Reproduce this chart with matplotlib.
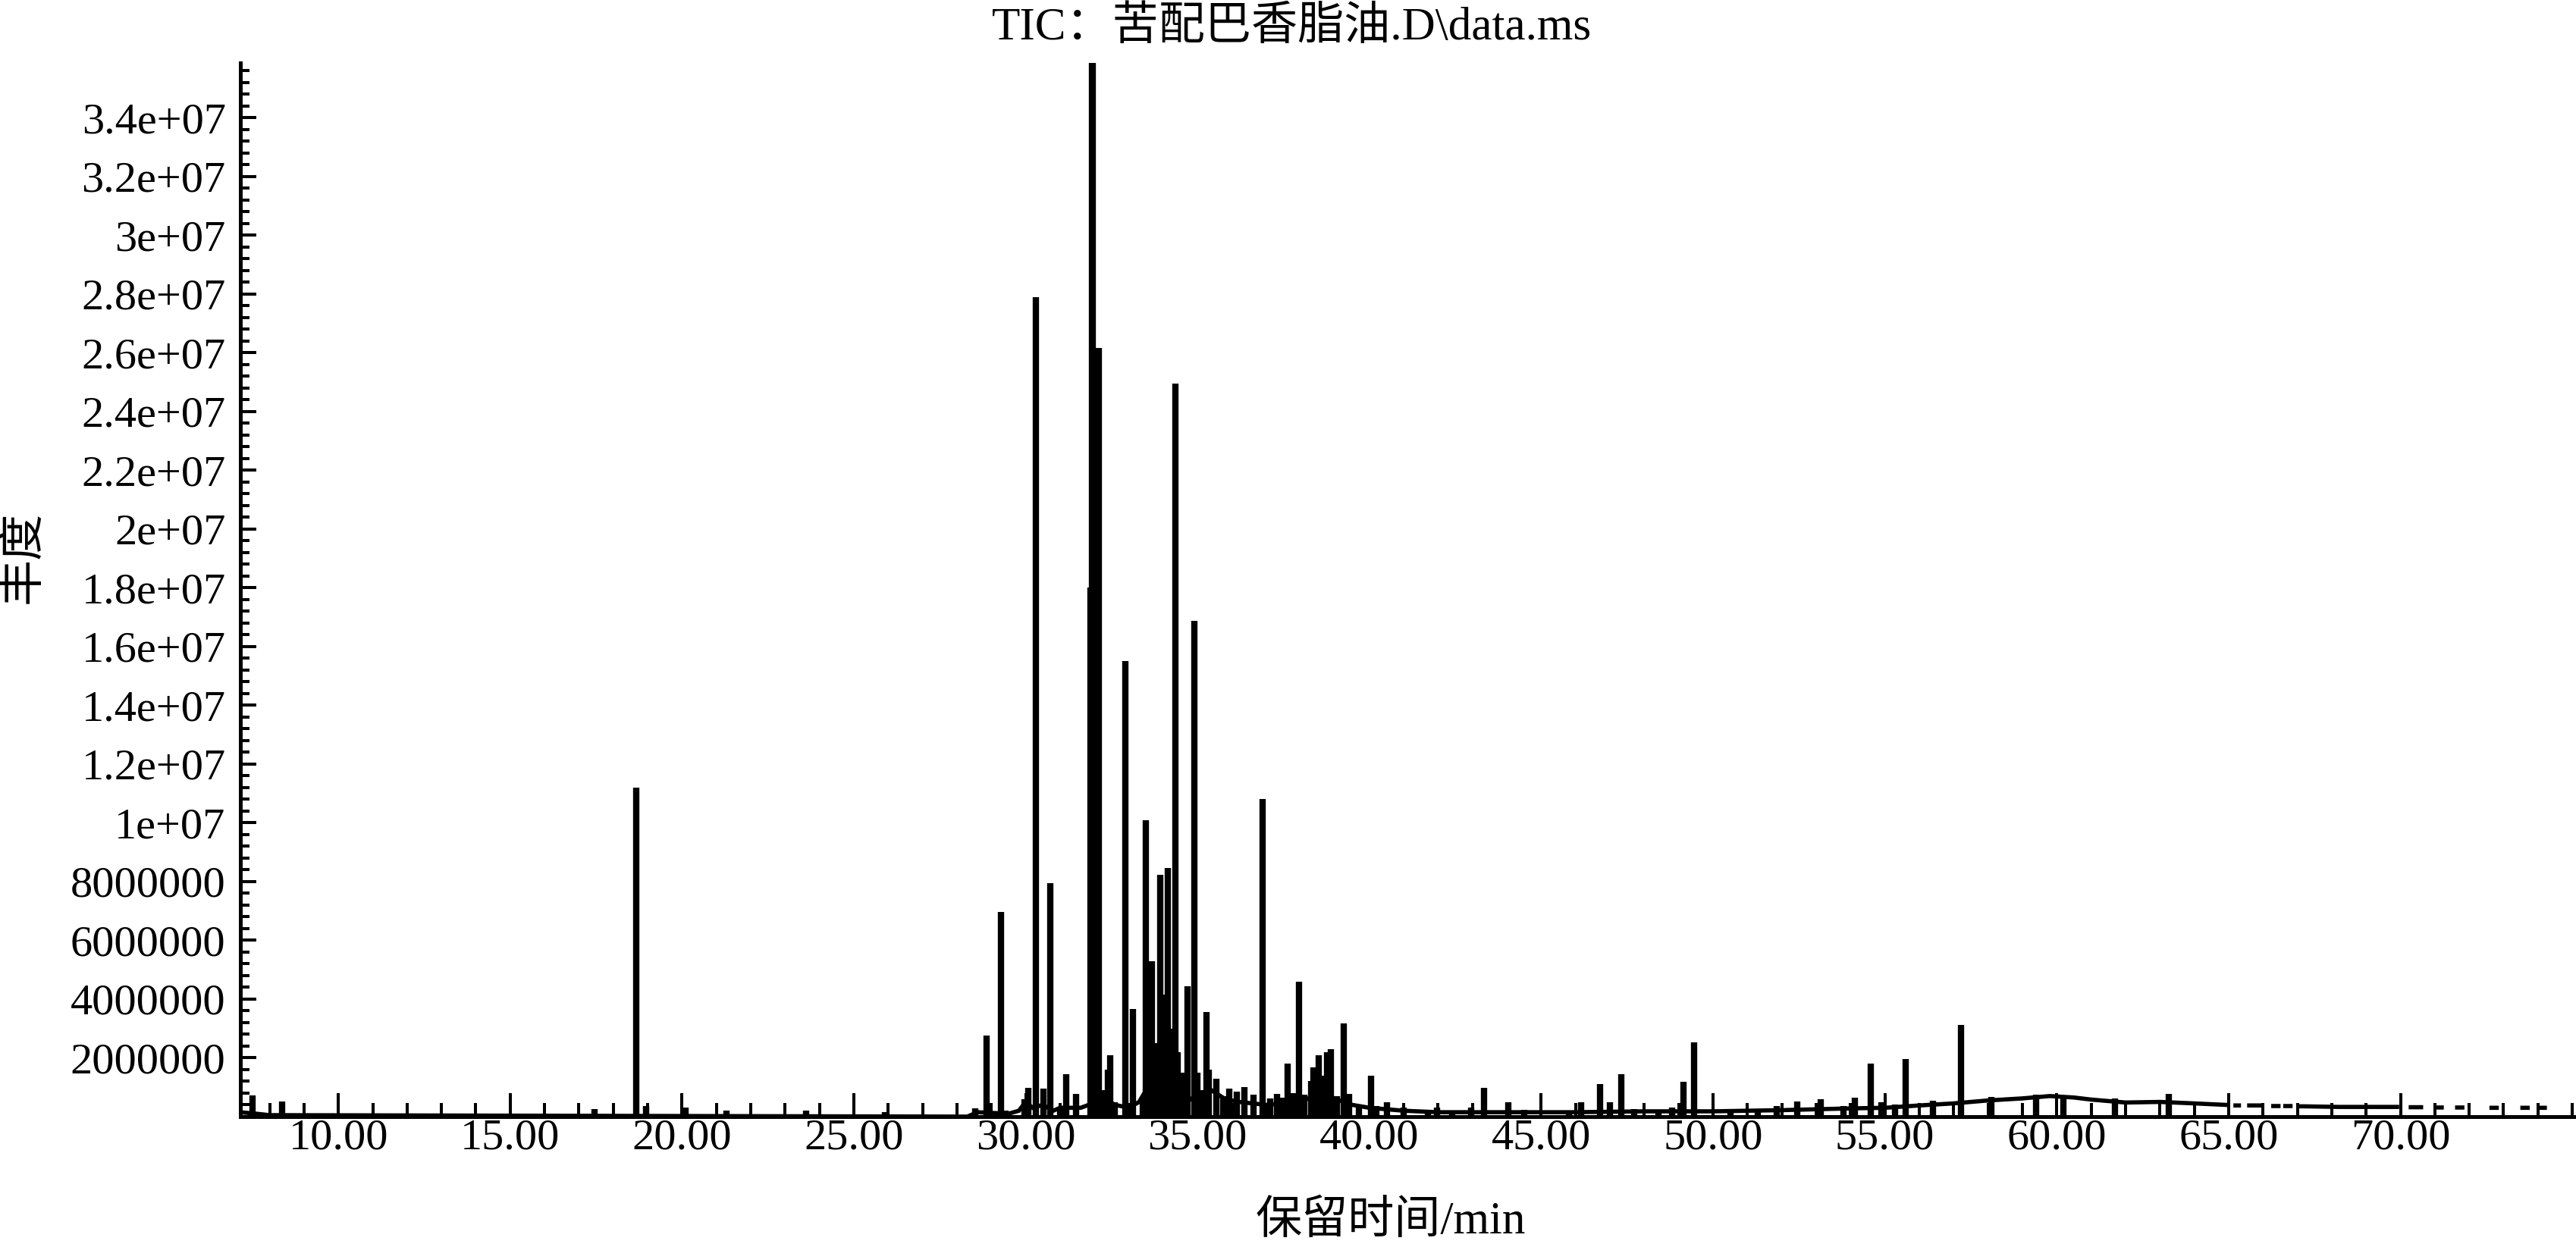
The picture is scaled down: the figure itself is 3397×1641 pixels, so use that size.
import numpy as np
import matplotlib
matplotlib.use('Agg')
import matplotlib.pyplot as plt
from matplotlib.ticker import MultipleLocator, FixedLocator, FormatStrFormatter

plt.rcParams['font.family'] = ['Liberation Serif', 'Noto Sans CJK SC', 'DejaVu Sans']

# peaks: retention time (min), abundance
peak_rt = [7.50, 8.36, 17.45, 18.66, 18.95, 20.10, 21.30, 23.60, 25.90,
           28.52, 28.86, 29.29, 29.42, 29.96, 30.07, 30.29, 30.51, 30.71,
           31.00, 31.17, 31.47, 31.89, 31.92, 31.96, 32.13, 32.26, 32.40,
           32.46, 32.60, 32.89, 33.11, 33.40, 33.49, 33.58, 33.62, 33.68,
           33.80, 33.92, 34.04, 34.14, 34.22, 34.35, 34.42, 34.58, 34.70,
           34.90, 35.00, 35.10, 35.25, 35.32, 35.55, 35.75, 35.93, 36.14,
           36.37, 36.63, 36.90, 37.11, 37.31, 37.45, 37.63, 37.80, 37.95,
           38.10, 38.30, 38.37, 38.53, 38.62, 38.77, 38.88, 39.05, 39.26,
           39.40, 39.70, 40.05, 40.20, 40.50, 41.00, 41.70, 41.97, 42.40,
           42.95, 43.34, 44.04, 44.50, 45.80, 46.15, 46.70, 47.00, 47.33,
           47.70, 48.40, 48.80, 49.13, 49.44, 50.50, 51.30, 51.86, 52.45,
           53.14, 53.80, 54.13, 54.58, 54.90, 55.30, 55.60, 56.40, 57.22,
           58.10, 59.40, 60.20, 61.70, 63.25]
peak_abund = [0.72e6, 0.52e6, 0.25e6, 1.12e7, 0.35e6, 0.30e6, 0.20e6, 0.20e6, 0.15e6,
              0.29e6, 2.76e6, 6.96e6, 0.20e6, 0.58e6, 0.98e6, 2.79e7, 0.96e6, 7.95e6,
              0.33e6, 1.45e6, 0.78e6, 1.80e7, 3.60e7, 3.60e7, 2.615e7, 0.91e6, 1.60e6,
              2.10e6, 0.50e6, 1.55e7, 3.66e6, 0.68e6, 1.009e7, 2.20e6, 1.80e6, 5.30e6,
              2.50e6, 8.22e6, 4.16e6, 8.46e6, 3.00e6, 2.494e7, 2.20e6, 1.50e6, 4.43e6,
              1.686e7, 1.50e6, 0.90e6, 3.55e6, 1.60e6, 1.30e6, 0.70e6, 0.95e6, 0.85e6,
              1.00e6, 0.76e6, 1.082e7, 0.62e6, 0.78e6, 0.65e6, 1.81e6, 0.80e6, 4.60e6,
              0.74e6, 1.20e6, 1.68e6, 2.10e6, 1.40e6, 2.20e6, 2.30e6, 0.70e6, 3.16e6,
              0.78e6, 0.35e6, 1.38e6, 0.35e6, 0.50e6, 0.30e6, 0.22e6, 0.30e6, 0.20e6,
              0.30e6, 0.98e6, 0.50e6, 0.22e6, 0.20e6, 0.50e6, 1.11e6, 0.50e6, 1.44e6,
              0.25e6, 0.22e6, 0.30e6, 1.19e6, 2.53e6, 0.22e6, 0.25e6, 0.35e6, 0.51e6,
              0.58e6, 0.35e6, 0.64e6, 1.80e6, 0.50e6, 0.42e6, 1.95e6, 0.55e6, 3.11e6,
              0.66e6, 0.76e6, 0.68e6, 0.62e6, 0.78e6]

# baseline trace between peaks (nan = no visible trace)
base_rt = [7.15, 7.60, 8.00, 28.30, 28.60, 29.50, 29.80, 30.00, 30.20, 30.50,
           30.80, 31.00, 31.60, 32.30, 32.60, 33.00, 33.30, 33.50, 33.80, 34.20,
           34.50, 34.80, 35.10, 35.40, 35.80, 36.20, 36.60, 37.00, 37.50, 38.20,
           38.60, 39.00, 39.50, 40.00, 40.50, 41.00, 42.00, 44.00, 46.00, 48.00,
           50.00, 52.00, 54.00, 55.00, 56.00, 57.00, 58.00, 59.00, 59.80, 60.50,
           61.00, 62.00, 63.00, 64.00, 64.90, 65.00,
           65.20, 65.30, 65.50, 65.60, 65.90, 66.00,
           66.30, 66.45, 66.55, 66.65, 66.80, 66.95, 67.10, 67.20,
           68.20, 69.00, 69.90, 70.00,
           70.30, 70.60, 70.70, 71.05, 71.20, 71.30, 71.65, 71.80, 71.90,
           72.65, 72.80, 72.90, 73.55, 73.70, 73.80, 74.05, 74.20]
base_abund = [0.15e6, 0.10e6, 0.05e6, 0.00e6, 0.15e6, 0.10e6, 0.20e6, 0.50e6, 0.30e6, 0.40e6,
              0.20e6, 0.30e6, 0.30e6, 0.60e6, 0.40e6, 0.30e6, 0.50e6, 0.90e6, 1.00e6, 0.90e6,
              0.30e6, 0.60e6, 0.80e6, 0.90e6, 0.60e6, 0.50e6, 0.45e6, 0.40e6, 0.45e6, 0.60e6,
              0.90e6, 0.60e6, 0.40e6, 0.30e6, 0.25e6, 0.20e6, 0.15e6, 0.15e6, 0.15e6, 0.18e6,
              0.18e6, 0.22e6, 0.28e6, 0.30e6, 0.38e6, 0.45e6, 0.55e6, 0.62e6, 0.70e6, 0.65e6,
              0.58e6, 0.48e6, 0.50e6, 0.45e6, 0.40e6, np.nan,
              0.38e6, 0.38e6, np.nan, 0.38e6, 0.38e6, np.nan,
              0.36e6, 0.36e6, np.nan, 0.36e6, 0.36e6, np.nan, 0.35e6, 0.35e6,
              0.33e6, 0.33e6, 0.33e6, np.nan,
              0.32e6, 0.32e6, np.nan, 0.31e6, 0.31e6, np.nan, 0.31e6, 0.31e6, np.nan,
              0.30e6, 0.30e6, np.nan, 0.30e6, 0.30e6, np.nan, 0.30e6, 0.30e6]

y_ticks = np.arange(2e6, 3.5e7, 2e6)
x_ticks = [10, 15, 20, 25, 30, 35, 40, 45, 50, 55, 60, 65, 70]

fig = plt.figure(figsize=(33.98, 16.41), dpi=100)
ax = fig.add_axes([0.0933, 0.1024, 0.9063, 0.847])

ax.plot(base_rt, base_abund, color='black', lw=4, solid_joinstyle='miter')
ax.vlines(peak_rt, 0, peak_abund, color='black', lw=6)

ax.set_xlim(7.15, 75.1)
ax.set_ylim(0, 3.586e7)

for s in ['top', 'right']:
    ax.spines[s].set_visible(False)
for s in ['left', 'bottom']:
    ax.spines[s].set_linewidth(3.6)

ax.xaxis.set_major_locator(FixedLocator(x_ticks))
ax.xaxis.set_minor_locator(MultipleLocator(1))
ax.xaxis.set_major_formatter(FormatStrFormatter('%.2f'))
ax.yaxis.set_major_locator(FixedLocator(y_ticks))
ax.yaxis.set_minor_locator(MultipleLocator(4e5))
ax.yaxis.set_major_formatter(FormatStrFormatter('%.7g'))

ax.tick_params(axis='x', which='major', direction='in', length=22, width=2.9,
               labelsize=42, pad=2)
ax.tick_params(axis='x', which='minor', direction='in', length=13, width=2.9)
ax.tick_params(axis='y', which='major', direction='in', length=15, width=2.9,
               labelsize=42, pad=14)
ax.tick_params(axis='y', which='minor', direction='in', length=8.6, width=2.9)

ax.set_xlabel('保留时间/min', fontsize=44)
ax.xaxis.set_label_coords(0.4924, -0.100)
ax.xaxis.label.set_verticalalignment('center')
ax.set_ylabel('丰度', fontsize=44)
ax.yaxis.set_label_coords(-0.0929, 0.531)
ax.yaxis.label.set_verticalalignment('center')

fig.text(0.5012, 0.9775, 'TIC：苦配巴香脂油.D\\data.ms', fontsize=44,
         ha='center', va='center')

fig.savefig('out.png', dpi=100)
